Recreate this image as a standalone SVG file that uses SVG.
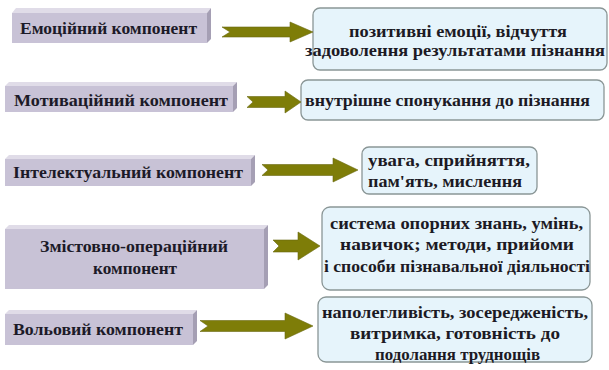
<svg xmlns="http://www.w3.org/2000/svg" width="609" height="370" viewBox="0 0 609 370">
<defs>
<style>
.face{fill:#c8c2d6;}
.top{fill:#e0dce8;}
.side{fill:#a59fb4;}
.lt{fill:#1c1a28;}
.rb{fill:#e6f4fb;stroke:#8a9696;stroke-width:1.3;}
.rt{fill:#1c1a24;}
.arr{fill:#7e7d08;stroke:#6a6a10;stroke-width:0.6;}
</style>
</defs>
<rect width="609" height="370" fill="#ffffff"/>
<g font-family="Liberation Serif, Times New Roman, serif" font-weight="bold" font-size="17">
<g id="n1">
<polygon class="top" points="12,13 16,8 211,8 207,13"/>
<polygon class="side" points="207,13 211,8 211,39 207,43"/>
<rect class="face" x="12" y="13" width="195" height="30"/>
<text class="lt" x="20" y="34" textLength="177" lengthAdjust="spacingAndGlyphs">Емоційний компонент</text>
</g>
<g id="n2">
<polygon class="top" points="5,86 9,82 237,82 233,86"/>
<polygon class="side" points="233,86 237,82 237,108 233,112"/>
<rect class="face" x="5" y="86" width="228" height="26"/>
<text class="lt" x="14" y="106" textLength="214" lengthAdjust="spacingAndGlyphs">Мотиваційний компонент</text>
</g>
<g id="n3">
<polygon class="top" points="5,159 9,155 255,155 251,159"/>
<polygon class="side" points="251,159 255,155 255,182 251,186"/>
<rect class="face" x="5" y="159" width="246" height="27"/>
<text class="lt" x="13" y="178" textLength="230" lengthAdjust="spacingAndGlyphs">Інтелектуальний компонент</text>
</g>
<g id="n4">
<polygon class="top" points="5,229 9,225 268,225 264,229"/>
<polygon class="side" points="264,229 268,225 268,285 264,289"/>
<rect class="face" x="5" y="229" width="259" height="60"/>
<text class="lt" x="40" y="252" textLength="188" lengthAdjust="spacingAndGlyphs">Змістовно-операційний</text>
<text class="lt" x="93" y="274" textLength="84" lengthAdjust="spacingAndGlyphs">компонент</text>
</g>
<g id="n5">
<polygon class="top" points="5,314 9,310 197,310 193,314"/>
<polygon class="side" points="193,314 197,310 197,341 193,345"/>
<rect class="face" x="5" y="314" width="188" height="31"/>
<text class="lt" x="13" y="335" textLength="170" lengthAdjust="spacingAndGlyphs">Вольовий компонент</text>
</g>

<g id="r1">
<rect class="rb" x="313" y="8" width="294" height="62" rx="7"/>
<text class="rt" x="349" y="37" textLength="218" lengthAdjust="spacingAndGlyphs">позитивні емоції, відчуття</text>
<text class="rt" x="305" y="56" textLength="300" lengthAdjust="spacingAndGlyphs">задоволення результатами пізнання</text>
</g>
<g id="r2">
<rect class="rb" x="301" y="80" width="303" height="40" rx="7"/>
<text class="rt" x="305" y="106" textLength="285" lengthAdjust="spacingAndGlyphs">внутрішне спонукання до пізнання</text>
</g>
<g id="r3">
<rect class="rb" x="362" y="147" width="175" height="47" rx="7"/>
<text class="rt" x="368" y="166" textLength="162" lengthAdjust="spacingAndGlyphs">увага, сприйняття,</text>
<text class="rt" x="368" y="187" textLength="154" lengthAdjust="spacingAndGlyphs">пам'ять, мислення</text>
</g>
<g id="r4">
<rect class="rb" x="322" y="207" width="268" height="83" rx="8"/>
<text class="rt" x="330" y="229" textLength="253" lengthAdjust="spacingAndGlyphs">система опорних знань, умінь,</text>
<text class="rt" x="340" y="250" textLength="234" lengthAdjust="spacingAndGlyphs">навичок; методи, прийоми</text>
<text class="rt" x="324" y="272" textLength="266" lengthAdjust="spacingAndGlyphs">і способи пізнавальної діяльності</text>
</g>
<g id="r5">
<rect class="rb" x="318" y="297" width="274" height="65" rx="8"/>
<text class="rt" x="322" y="318" textLength="266" lengthAdjust="spacingAndGlyphs">наполегливість, зосередженість,</text>
<text class="rt" x="350" y="339" textLength="210" lengthAdjust="spacingAndGlyphs">витримка, готовність до</text>
<text class="rt" x="375" y="360" textLength="165" lengthAdjust="spacingAndGlyphs">подолання труднощів</text>
</g>
</g>
<g id="connectors">
<path class="arr" d="M222,27 L290,27 L290,22 L313,32 L290,42 L290,37 L222,37 L230,32 Z"/>
<path class="arr" d="M247,96.5 L285,96.5 L285,91 L301,102 L285,113 L285,107.5 L247,107.5 L253,102 Z"/>
<path class="arr" d="M262,164.5 L333,164.5 L333,158 L358,170 L333,182 L333,175.5 L262,175.5 L268,170 Z"/>
<path class="arr" d="M273,240 L298,240 L298,232 L320,246 L298,260 L298,252 L273,252 L279,246 Z"/>
<path class="arr" d="M200,320.5 L285,320.5 L285,313 L313,326 L285,339 L285,331.5 L200,331.5 L208,326 Z"/>
</g>
</svg>
